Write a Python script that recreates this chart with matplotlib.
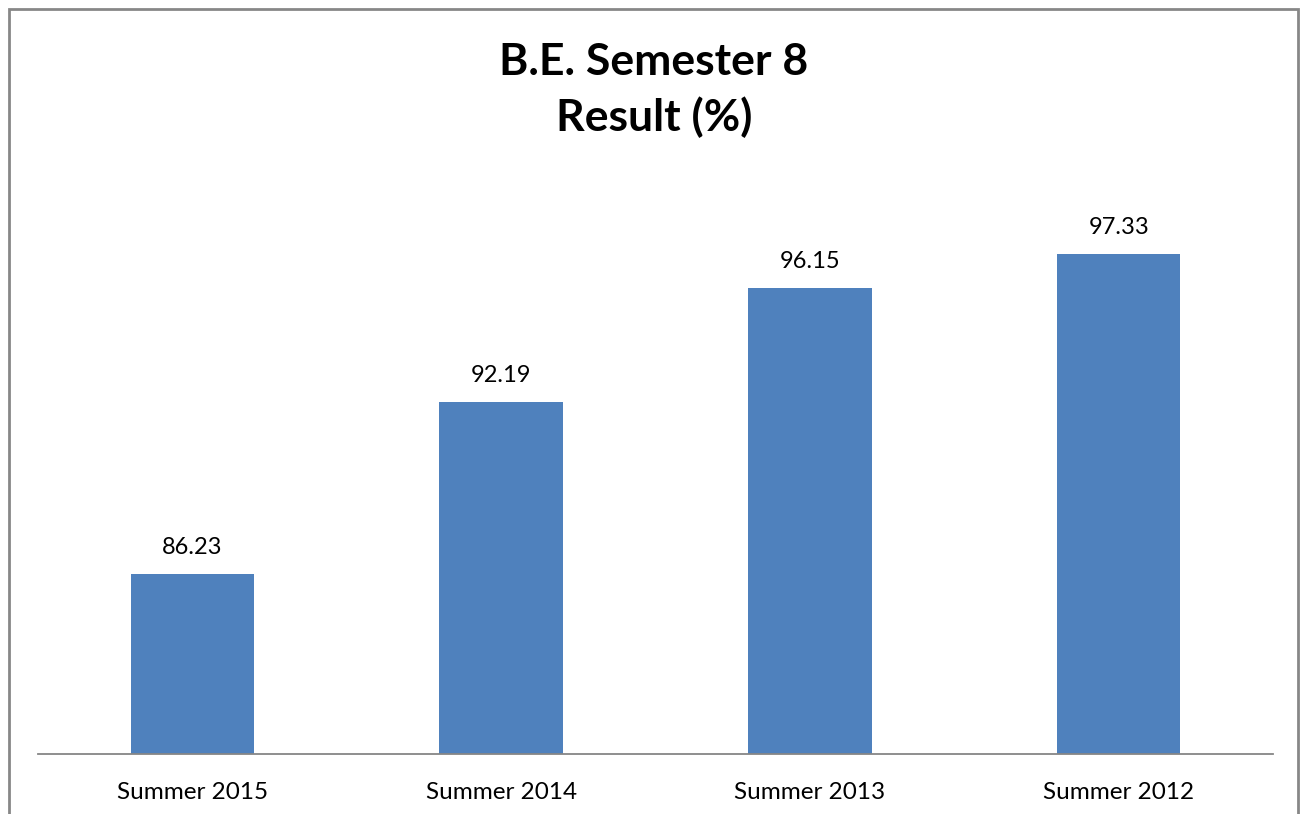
import matplotlib.pyplot as plt
from matplotlib.patches import Rectangle

# Data
terms = ['Summer 2015', 'Summer 2014', 'Summer 2013', 'Summer 2012']
results = [86.23, 92.19, 96.15, 97.33]

plt.rcParams['font.family'] = ['Lato', 'DejaVu Sans']

fig = plt.figure(figsize=(13.03, 8.14), dpi=100)
ax = fig.add_axes([38 / 1303, 60 / 814, 1235 / 1303, 577 / 814])

# Bars and value labels
bars = ax.bar(range(len(terms)), results, width=0.4, color='#4f81bd')
for bar, val in zip(bars, results):
    ax.text(bar.get_x() + bar.get_width() / 2, val + 0.55, f'{val:.2f}',
            ha='center', va='bottom', fontsize=17)

ax.set_xlim(-0.5, len(terms) - 0.5)
ax.set_ylim(80, 100)
ax.set_xticks(range(len(terms)))
ax.set_xticklabels(terms, fontsize=17.5)
ax.tick_params(axis='x', length=0, pad=20)
ax.set_yticks([])
for side in ['top', 'right', 'left']:
    ax.spines[side].set_visible(False)
ax.spines['bottom'].set_color('#868686')
ax.spines['bottom'].set_linewidth(1.3)

# Title
fig.text(0.502, 1 - 90 / 814, 'B.E. Semester 8\nResult (%)', ha='center', va='center',
         fontsize=32, fontweight='bold', linespacing=1.4)

# Outer frame of the chart area
fig.patches.append(Rectangle((8.5 / 1303, -0.05), 1289.5 / 1303, 1.05 - 8.5 / 814,
                             transform=fig.transFigure, fill=False,
                             edgecolor='#878787', linewidth=2))

fig.savefig('out.png', dpi=100)
